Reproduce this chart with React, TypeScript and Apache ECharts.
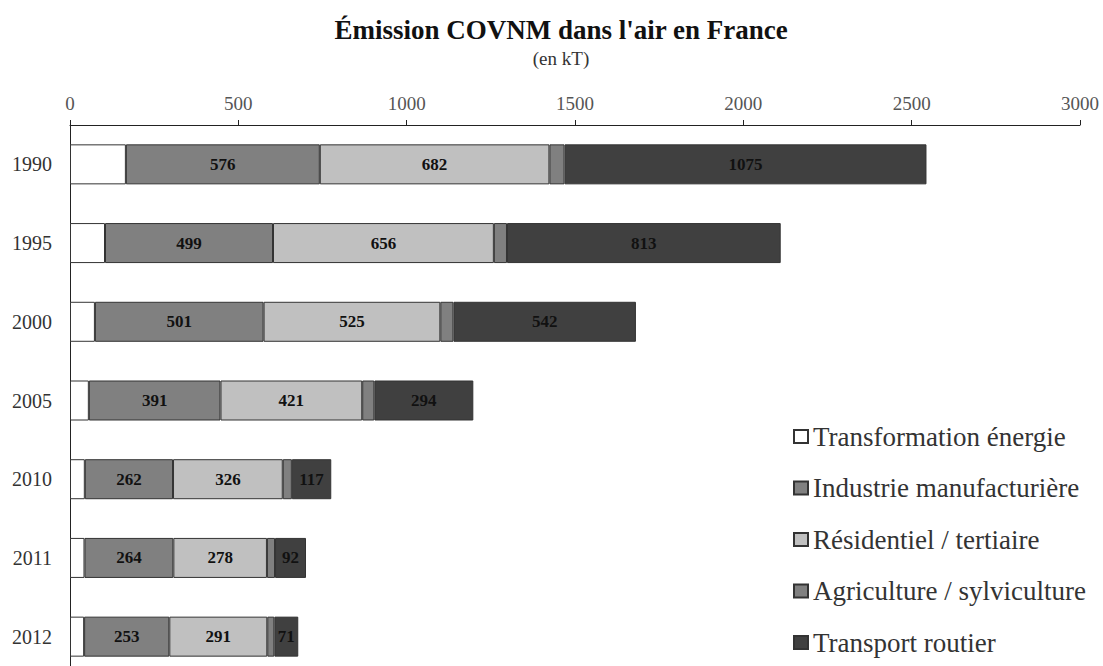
import React, { useEffect, useRef } from "react";
import * as echarts from "echarts";

const years = ["1990", "1995", "2000", "2005", "2010", "2011", "2012"];
const transformation = [166, 104, 74, 56, 44, 43, 42];
const industrie = [576, 499, 501, 391, 262, 264, 253];
const residentiel = [682, 656, 525, 421, 326, 278, 291];
const agriculture = [45, 39, 39, 36, 27, 24, 21];
const transport = [1075, 813, 542, 294, 117, 92, 71];
const xTicks = { min: 0, max: 3000, interval: 500 };

const FONT = "'Liberation Serif', 'DejaVu Serif', serif";

export default function App() {
  const ref = useRef<HTMLDivElement>(null);
  useEffect(() => {
    if (!ref.current) return;
    const chart = echarts.init(ref.current, null, { renderer: "svg" });
    const label = (show: boolean) => ({
      show,
      position: "inside",
      fontFamily: FONT,
      fontWeight: "bold",
      fontSize: 17,
      color: "#111",
    });
    const mk = (name: string, data: number[], color: string, showLabel: boolean) => ({
      name,
      type: "bar",
      stack: "total",
      barWidth: 40,
      data,
      itemStyle: { color, borderColor: "#333", borderWidth: 1 },
      label: label(showLabel),
    });
    chart.setOption({
      animation: false,
      backgroundColor: "#fff",
      title: {
        text: "Émission COVNM dans l'air en France",
        subtext: "(en kT)",
        left: 556,
        textAlign: "center",
        top: 11,
        itemGap: 6,
        textStyle: { fontFamily: FONT, fontWeight: "bold", fontSize: 27, color: "#111" },
        subtextStyle: { fontFamily: FONT, fontSize: 19, color: "#333" },
      },
      legend: {
        orient: "vertical",
        left: 793,
        top: 423,
        padding: 0,
        itemWidth: 14,
        itemHeight: 13,
        itemGap: 24.5,
        icon: "rect",
        textStyle: { fontFamily: FONT, fontSize: 27, color: "#333" },
        data: [
          "Transformation énergie",
          "Industrie manufacturière",
          "Résidentiel / tertiaire",
          "Agriculture / sylviculture",
          "Transport routier",
        ],
      },
      grid: { left: 70, right: 23, top: 125, bottom: 14, containLabel: false },
      xAxis: {
        type: "value",
        position: "top",
        min: xTicks.min,
        max: xTicks.max,
        interval: xTicks.interval,
        splitLine: { show: false },
        axisLine: { show: true, lineStyle: { color: "#222", width: 1 } },
        axisTick: { show: true, length: 5, inside: false, lineStyle: { color: "#222" } },
        axisLabel: {
          fontFamily: FONT,
          fontSize: 19,
          color: "#555",
          margin: 12,
          formatter: (v: number) => String(v),
        },
      },
      yAxis: {
        type: "category",
        inverse: true,
        data: years,
        axisLine: { show: true, lineStyle: { color: "#222", width: 1 } },
        axisTick: { show: false },
        axisLabel: { fontFamily: FONT, fontSize: 20, color: "#333", margin: 18 },
      },
      series: [
        mk("Transformation énergie", transformation, "#ffffff", false),
        mk("Industrie manufacturière", industrie, "#808080", true),
        mk("Résidentiel / tertiaire", residentiel, "#c0c0c0", true),
        mk("Agriculture / sylviculture", agriculture, "#808080", false),
        mk("Transport routier", transport, "#404040", true),
      ],
    });
    return () => chart.dispose();
  }, []);
  return (
    <div style={{ position: "fixed", left: 0, top: 0, width: 1103, height: 666, overflow: "hidden" }}>
      <div ref={ref} style={{ width: 1103, height: 690 }} />
    </div>
  );
}
